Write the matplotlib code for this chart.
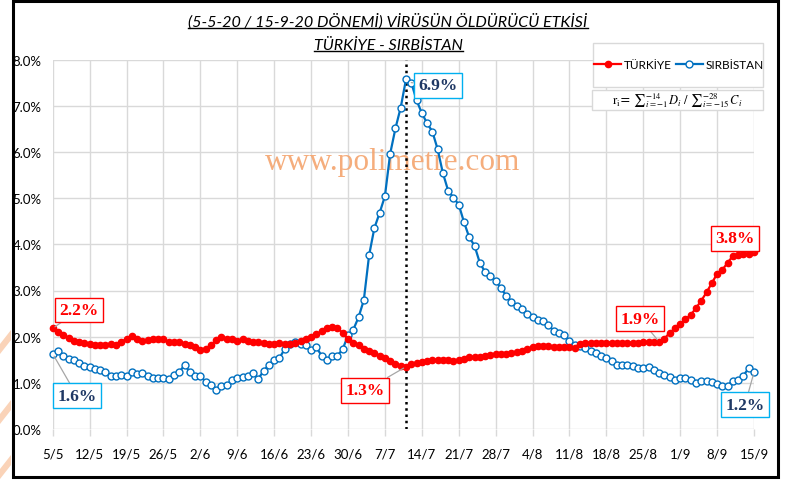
import matplotlib
matplotlib.use('Agg')
import matplotlib.pyplot as plt
from matplotlib.lines import Line2D
from matplotlib.patches import Rectangle, Polygon

# ---------------- data ----------------
days = list(range(134))  # 5/5/2020 .. 15/9/2020
turkiye = [2.18, 2.10, 2.04, 1.97, 1.90, 1.88, 1.86, 1.84, 1.83, 1.82,
           1.82, 1.84, 1.82, 1.89, 1.95, 2.02, 1.95, 1.91, 1.92, 1.94,
           1.95, 1.94, 1.89, 1.89, 1.88, 1.85, 1.83, 1.77, 1.72, 1.74,
           1.82, 1.92, 1.99, 1.95, 1.95, 1.91, 1.94, 1.91, 1.89, 1.88,
           1.86, 1.84, 1.85, 1.86, 1.85, 1.85, 1.87, 1.90, 1.94, 1.99,
           2.05, 2.12, 2.19, 2.22, 2.19, 2.08, 1.96, 1.87, 1.81, 1.74,
           1.69, 1.65, 1.59, 1.53, 1.47, 1.41, 1.36, 1.35, 1.40, 1.43,
           1.46, 1.48, 1.50, 1.50, 1.50, 1.50, 1.48, 1.50, 1.52, 1.55,
           1.56, 1.57, 1.59, 1.61, 1.62, 1.62, 1.62, 1.64, 1.66, 1.70,
           1.73, 1.77, 1.79, 1.80, 1.79, 1.77, 1.77, 1.78, 1.77, 1.76,
           1.84, 1.86, 1.87, 1.87, 1.87, 1.87, 1.87, 1.87, 1.87, 1.87,
           1.87, 1.87, 1.88, 1.88, 1.88, 1.89, 1.96, 2.08, 2.18, 2.27,
           2.38, 2.47, 2.62, 2.78, 2.96, 3.16, 3.36, 3.45, 3.60, 3.75,
           3.77, 3.79, 3.79, 3.84]
sirbistan = [1.63, 1.68, 1.58, 1.52, 1.50, 1.43, 1.37, 1.34, 1.30, 1.28,
             1.24, 1.14, 1.16, 1.17, 1.16, 1.24, 1.19, 1.21, 1.16, 1.11,
             1.11, 1.10, 1.09, 1.17, 1.23, 1.39, 1.24, 1.14, 1.14, 1.03,
             0.95, 0.85, 0.94, 0.95, 1.06, 1.10, 1.12, 1.14, 1.21, 1.09,
             1.26, 1.39, 1.49, 1.54, 1.73, 1.84, 1.88, 1.84, 1.81, 1.71,
             1.77, 1.59, 1.50, 1.58, 1.59, 1.73, 2.03, 2.15, 2.42, 2.79,
             3.76, 4.35, 4.68, 5.04, 5.96, 6.51, 6.96, 7.57, 7.50, 7.12,
             6.84, 6.62, 6.44, 6.06, 5.54, 5.16, 5.01, 4.86, 4.48, 4.15,
             3.97, 3.60, 3.40, 3.32, 3.21, 3.05, 2.89, 2.76, 2.67, 2.60,
             2.50, 2.42, 2.37, 2.33, 2.25, 2.13, 2.08, 2.03, 1.90, 1.83,
             1.80, 1.75, 1.70, 1.64, 1.59, 1.53, 1.48, 1.39, 1.39, 1.39,
             1.37, 1.32, 1.32, 1.34, 1.29, 1.21, 1.17, 1.12, 1.07, 1.10,
             1.10, 1.07, 1.00, 1.05, 1.05, 1.01, 0.98, 0.94, 0.94, 1.05,
             1.07, 1.16, 1.32, 1.23]
tick_days = list(range(0, 134, 7))
tick_labels = ['5/5', '12/5', '19/5', '26/5', '2/6', '9/6', '16/6', '23/6',
               '30/6', '7/7', '14/7', '21/7', '28/7', '4/8', '11/8', '18/8',
               '25/8', '1/9', '8/9', '15/9']
y_ticks = [0, 1, 2, 3, 4, 5, 6, 7, 8]
y_labels = ['0.0%', '1.0%', '2.0%', '3.0%', '4.0%', '5.0%', '6.0%', '7.0%', '8.0%']
marker_day = 67  # 11/7
series_names = ['TÜRKİYE', 'SIRBİSTAN']
title_lines = ['(5-5-20 / 15-9-20 DÖNEMİ) VİRÜSÜN ÖLDÜRÜCÜ ETKİSİ', 'TÜRKİYE - SIRBİSTAN']
# (text, anchor day, anchor value, label day, label value, series)
callouts = [('2.2%', 0, turkiye[0], 5.0, 2.58, 0),
            ('1.6%', 0, sirbistan[0], 4.6, 0.72, 1),
            ('6.9%', 68, sirbistan[68], 73.0, 7.44, 1),
            ('1.3%', 67, turkiye[67], 59.3, 0.84, 0),
            ('1.9%', 115, turkiye[115], 111.4, 2.39, 0),
            ('3.8%', 133, turkiye[133], 129.4, 4.13, 0),
            ('1.2%', 133, sirbistan[133], 131.3, 0.53, 1)]

W, H = 786, 481
fig = plt.figure(figsize=(W / 100, H / 100), dpi=100)
fig.patch.set_facecolor('white')

def fx(x):
    return x / W

def fy(y):
    return 1 - y / H

# decorative background shapes on the far left
for y0 in [345, 415, 470]:
    fig.patches.append(Polygon([[fx(0), fy(y0)], [fx(11), fy(y0 - 14)],
                                [fx(11), fy(y0 - 4)], [fx(0), fy(y0 + 10)]],
                               closed=True, transform=fig.transFigure,
                               facecolor='#FAD3B8', edgecolor='none', zorder=0))
# outer frame
fig.patches.append(Rectangle((fx(12.5), fy(478)), fx(778) - fx(12.5), fy(2) - fy(478),
                             transform=fig.transFigure, fill=False,
                             edgecolor='black', linewidth=2.2, zorder=10))

left, right = 52.7, 754.0
top, bottom = 60.5, 430.1
ax = fig.add_axes([fx(left), fy(bottom), fx(right) - fx(left), fy(top) - fy(bottom)])
ax.set_xlim(0, 133)
ax.set_ylim(0, 8)
for s in ax.spines.values():
    s.set_visible(False)
ax.set_xticks(tick_days)
ax.set_xticklabels(tick_labels)
ax.set_yticks(y_ticks)
ax.set_yticklabels(y_labels)
grid_c = '#D9D9D9'
ax.grid(True, color=grid_c, linewidth=1.0)
ax.set_axisbelow(True)
ax.tick_params(axis='x', length=5, color=grid_c, width=1, pad=8,
               labelsize=9.5, labelcolor='#000000')
ax.tick_params(axis='y', length=0, pad=8, labelsize=9.5, labelcolor='#000000')
for lab in ax.get_xticklabels() + ax.get_yticklabels():
    lab.set_fontfamily('Lato')

# watermark
ax.text(64.5, 5.8, 'www.polimetre.com', fontfamily='Liberation Serif', fontsize=22.5,
        color='#F4A46E', alpha=0.9, ha='center', va='center', zorder=1)

# dotted vertical line
ax.axvline(marker_day, ymin=0, ymax=1, color='black', linestyle=(0, (1, 1.5)),
           linewidth=1.8, zorder=2)

red = '#FF0000'
blue = '#0070C0'
ax.plot(days, turkiye, color=red, linewidth=1.6, marker='o', markersize=4.5,
        markerfacecolor=red, markeredgecolor=red, clip_on=False, zorder=4)
ax.plot(days, sirbistan, color=blue, linewidth=1.6, marker='o', markersize=5,
        markerfacecolor='white', markeredgecolor=blue, markeredgewidth=1.0,
        clip_on=False, zorder=3)

# callouts
for txt, ad, av, ld, lv, s in callouts:
    tc = red if s == 0 else '#1F3864'
    ec = red if s == 0 else '#00B0F0'
    ax.annotate(txt, xy=(ad, av), xytext=(ld, lv), textcoords='data',
                ha='center', va='center', fontfamily='Liberation Serif',
                fontweight='bold', fontsize=12.5, color=tc,
                bbox=dict(boxstyle='square,pad=0.25', facecolor='white',
                          edgecolor=ec, linewidth=1.0),
                arrowprops=dict(arrowstyle='-', color='#A6A6A6', linewidth=0.9,
                                shrinkA=0, shrinkB=2),
                zorder=6, annotation_clip=False)

# legend box
fig.patches.append(Rectangle((fx(592.7), fy(87.7)), fx(762.7) - fx(592.7), fy(44) - fy(87.7),
                             transform=fig.transFigure, facecolor='white',
                             edgecolor=grid_c, linewidth=1.0, zorder=5))
handles = [Line2D([], [], color=red, linewidth=1.6, marker='o', markersize=4.5,
                  markerfacecolor=red, markeredgecolor=red),
           Line2D([], [], color=blue, linewidth=1.6, marker='o', markersize=5,
                  markerfacecolor='white', markeredgecolor=blue)]
leg = fig.legend(handles, series_names, loc='center', ncol=2,
                 bbox_to_anchor=(fx(679), fy(65.5)), frameon=False,
                 prop={'family': 'Lato', 'size': 8.5}, handlelength=2.3,
                 handletextpad=0.25, columnspacing=0.3, borderpad=0.1)
leg.set_zorder(6)

# formula box
fig.patches.append(Rectangle((fx(591.7), fy(111)), fx(762.7) - fx(591.7), fy(91) - fy(111),
                             transform=fig.transFigure, facecolor='white',
                             edgecolor=grid_c, linewidth=1.0, zorder=5))
fig.text(fx(677), fy(101), r'$\mathrm{r_i}$= ${\sum}_{i=-1}^{-14}\,D_i\ /\ {\sum}_{i=-15}^{-28}\,C_i$',
         ha='center', va='center', fontsize=9, zorder=7,
         math_fontfamily='stix')

# title with underline
tts = []
for i, (line, yy) in enumerate(zip(title_lines, [22, 46])):
    t = fig.text(fx(388), fy(yy), line, ha='center', va='center',
                 fontfamily='Lato', fontstyle='italic', fontsize=11.6, color='black')
    tts.append(t)
fig.canvas.draw()
r = fig.canvas.get_renderer()
for t in tts:
    bb = t.get_window_extent(renderer=r)
    yline = bb.y0 + 1
    fig.lines.append(Line2D([bb.x0 / W, bb.x1 / W], [yline / H, yline / H],
                            transform=fig.transFigure, color='black', linewidth=1.0))

fig.savefig('out.png', dpi=100, facecolor='white')
